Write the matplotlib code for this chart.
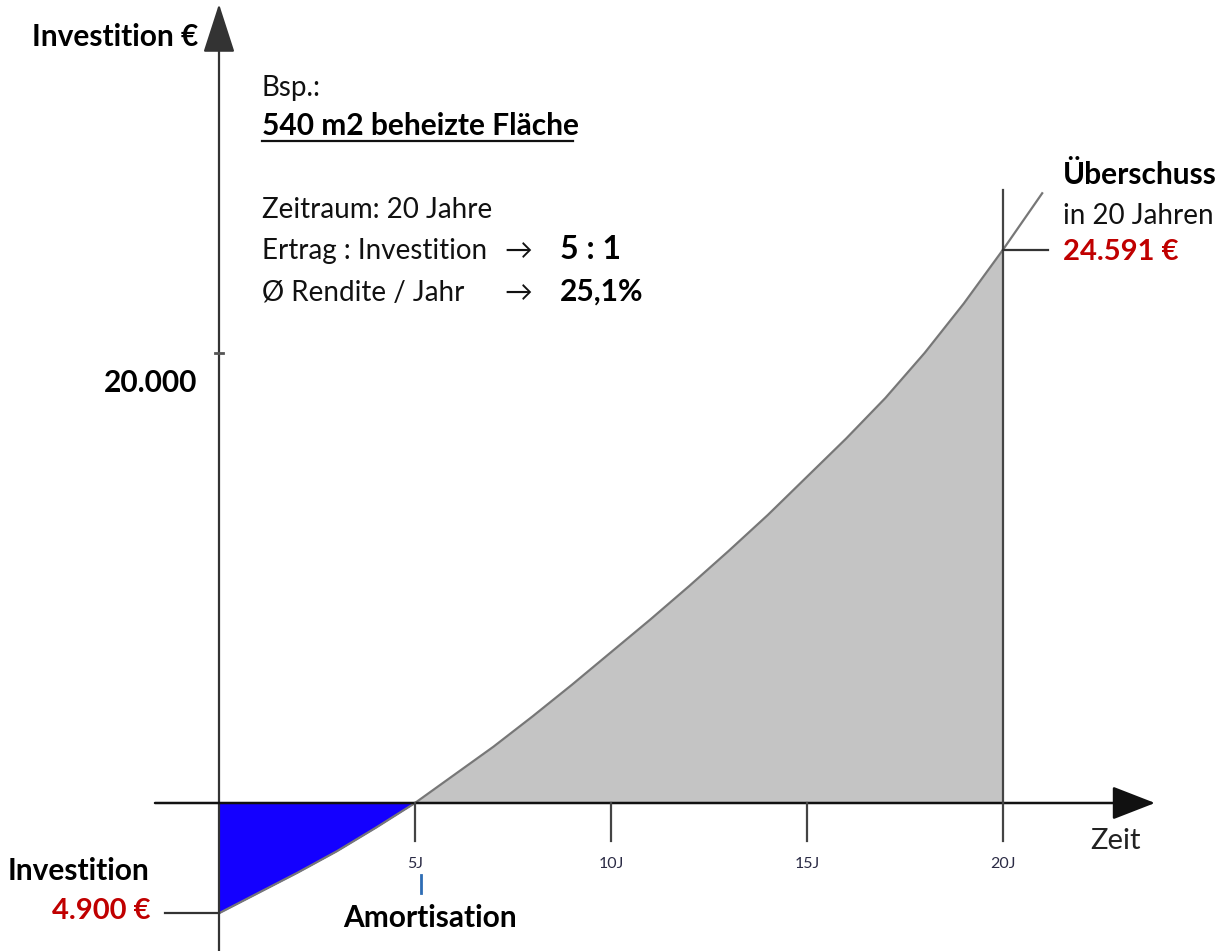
import matplotlib
matplotlib.use("Agg")
import matplotlib.pyplot as plt

plt.rcParams['font.family'] = ['Lato', 'DejaVu Sans']

# cumulative result (EUR) per year
years = list(range(0, 22))
cum_eur = [-4900, -4000, -3100, -2150, -1100, 0, 1250, 2500, 3850, 5250,
           6700, 8150, 9650, 11200, 12800, 14500, 16200, 18000, 20000, 22200,
           24591, 27100]
tick_years = [5, 10, 15, 20]
tick_labels = ["5J", "10J", "15J", "20J"]
invest = -4900
surplus = 24591
payback_year = 5
horizon = 20
y_mark = 20000

W, H = 1226, 951
fig = plt.figure(figsize=(W / 100, H / 100), dpi=100)
ax = fig.add_axes([0, 0, 1, 1])
ax.set_axis_off()

# pixel mapping: x = 219 + 39.2*year ; y = 803 - 0.0225*eur
sx, x0 = 39.2, 219
sy, y0 = 0.0225, 803
ax.set_xlim(-x0 / sx, (W - x0) / sx)
ax.set_ylim(-(H - y0) / sy, y0 / sy)


def P(x, y):
    return x / W, 1 - y / H


T = ax.transAxes

# fills
neg_x = [x for x in years if x <= payback_year]
neg_y = cum_eur[:len(neg_x)]
ax.fill_between(neg_x, neg_y, 0, color="#1400ff", lw=0, zorder=1)
pos_x = [x for x in years if payback_year <= x <= horizon]
pos_y = [cum_eur[years.index(x)] for x in pos_x]
ax.fill_between(pos_x, pos_y, 0, color="#c4c4c4", lw=0, zorder=1)
ax.plot(years, cum_eur, color="#777777", lw=1.6, zorder=3)

# axes with arrows
ymin, ymax = ax.get_ylim()
ax.annotate("", xy=(0, (y0 - 4) / sy), xytext=(0, ymin),
            arrowprops=dict(arrowstyle="-|>,head_length=3.1,head_width=1.0",
                            mutation_scale=10, color="#333333", lw=1.6,
                            shrinkA=0, shrinkB=0), zorder=4)
ax.annotate("", xy=((1155 - x0) / sx, 0), xytext=((155 - x0) / sx, 0),
            arrowprops=dict(arrowstyle="-|>,head_length=2.7,head_width=1.05",
                            mutation_scale=10, color="#111111", lw=1.8,
                            shrinkA=0, shrinkB=0), zorder=4)

# x ticks
tick_len = 38 / sy
for t, lab in zip(tick_years, tick_labels):
    ax.plot([t, t], [0, -tick_len], color="#444444", lw=1.6, zorder=4)
    ax.text(t, -(868 - y0) / sy, lab, ha="center", va="baseline",
            fontsize=11.5, color="#2b2b45")

# 20-year marker lines
ax.plot([horizon, horizon], [0, (y0 - 190) / sy], color="#444444", lw=1.6, zorder=4)
ax.plot([horizon, (1048 - x0) / sx], [surplus, surplus], color="#333333", lw=1.6, zorder=4)
ax.plot([(165 - x0) / sx, 0], [invest, invest], color="#333333", lw=1.6, zorder=4)
ax.plot([-4 / sx, 4 / sx], [y_mark, y_mark], color="#555555", lw=2, zorder=4)

BOLD = 21.5
RED = 21
bold = dict(transform=T, va="baseline", fontsize=BOLD, fontweight="bold", color="#000000")
light = dict(transform=T, va="baseline", fontsize=20, fontweight="normal", color="#111111")

ax.text(*P(198, 46), "Investition €", ha="right", **bold)
ax.text(*P(197, 392), f"{y_mark:,}".replace(",", "."), ha="right", **bold)

ax.text(*P(262, 96), "Bsp.:", ha="left", **light)
ax.text(*P(262, 135), "540 m2 beheizte Fläche", ha="left", **bold)
ax.plot([262 / W, 573 / W], [1 - 141 / H, 1 - 141 / H], transform=T,
        color="#111111", lw=1.6)
ax.text(*P(262, 218), "Zeitraum: 20 Jahre", ha="left", **light)
ax.text(*P(262, 259), "Ertrag : Investition", ha="left", **light)
ax.text(*P(262, 301), "Ø Rendite / Jahr", ha="left", **light)
ax.text(*P(504, 259), "→", ha="left", **light)
ax.text(*P(504, 301), "→", ha="left", **light)
ax.text(*P(560, 259), "5 : 1", ha="left", **dict(bold, fontsize=23))
ax.text(*P(560, 301), "25,1%", ha="left", **bold)

ax.text(*P(1063, 184), "Überschuss", ha="left", **bold)
ax.text(*P(1063, 224), "in 20 Jahren", ha="left", **light)
ax.text(*P(1063, 260), f"{surplus:,} €".replace(",", "."), ha="left",
        **dict(bold, fontsize=RED, color="#c00000"))

ax.text(*P(1090, 849), "Zeit", ha="left", **dict(light, fontsize=21, color="#222222"))
ax.text(*P(8, 880), "Investition", ha="left", **bold)
ax.text(*P(150, 919), f"{-invest:,} €".replace(",", "."), ha="right",
        **dict(bold, fontsize=RED, color="#c00000"))

ax.plot([421 / W, 421 / W], [1 - 875 / H, 1 - 893 / H], transform=T,
        color="#2e6db4", lw=2)
ax.text(*P(430, 927), "Amortisation", ha="center", **bold)

fig.savefig("out.png", dpi=100)
